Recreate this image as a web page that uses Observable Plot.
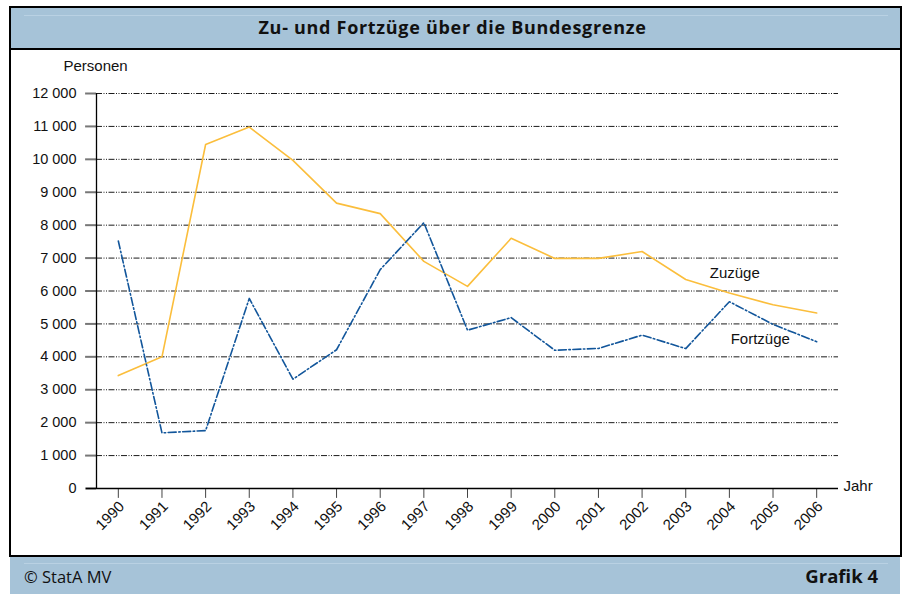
<!DOCTYPE html>
<html>
<head>
<meta charset="utf-8">
<script src="https://cdn.jsdelivr.net/npm/d3@7"></script>
<script src="https://cdn.jsdelivr.net/npm/@observablehq/plot@0.6"></script>
<style>
  html, body { margin: 0; padding: 0; background: #fff; }
  #wrap { position: relative; width: 905px; height: 594px; overflow: hidden; font-family: "Liberation Sans", Arial, sans-serif; }
  #chart { position: absolute; left: 0; top: 0; }
  .band { position: absolute; left: 10px; width: 890px; background: #a6c3d8; }
  .hl { position: absolute; height: 1px; background: #b9d1e3; }
  .bl { position: absolute; background: #000; }
  #title { position: absolute; left: 0; width: 905px; top: 15px; text-align: center; font-family: "Open Sans", sans-serif; font-weight: 700; font-size: 18px; letter-spacing: 0.7px; color: #111; }
  #src { position: absolute; left: 24px; top: 565px; font-family: "Open Sans", sans-serif; font-size: 16.5px; color: #111; }
  #grafik { position: absolute; right: 27px; top: 563px; font-family: "Open Sans", sans-serif; font-weight: 700; font-size: 18.5px; color: #111; }
</style>
</head>
<body>
<div id="wrap">
  <div id="chart"></div>
  <div class="band" style="top:7px;height:41px;"></div>
  <div class="hl" style="left:24px;width:864px;top:15px;"></div>
  <div class="band" style="top:556px;height:38px;"></div>
  <div class="hl" style="left:24px;width:864px;top:563px;"></div>
  <div class="bl" style="left:9px;width:893px;top:6px;height:1.5px;"></div>
  <div class="bl" style="left:9px;width:893px;top:48px;height:1.5px;"></div>
  <div class="bl" style="left:9px;width:893px;top:555px;height:1.5px;"></div>
  <div class="bl" style="left:9px;width:1.5px;top:6px;height:550px;"></div>
  <div class="bl" style="left:900px;width:1.5px;top:6px;height:550px;"></div>
  <div id="title">Zu- und Fortzüge über die Bundesgrenze</div>
  <div id="src">© StatA MV</div>
  <div id="grafik">Grafik 4</div>
</div>
<script>
const years = [1990,1991,1992,1993,1994,1995,1996,1997,1998,1999,2000,2001,2002,2003,2004,2005,2006];
const zuzuege = [3430,4000,10450,10980,9970,8670,8350,6900,6140,7600,6990,6990,7200,6350,5940,5580,5330];
const fortzuege = [7520,1690,1760,5775,3320,4215,6650,8075,4810,5190,4200,4255,4660,4250,5675,4985,4460];
const yTicks = [0,1000,2000,3000,4000,5000,6000,7000,8000,9000,10000,11000,12000];
const seriesNames = ["Zuzüge", "Fortzüge"];

const rows = [];
years.forEach((y, i) => {
  rows.push({year: y, value: zuzuege[i], series: seriesNames[0]});
  rows.push({year: y, value: fortzuege[i], series: seriesNames[1]});
});
const fmt = d => d3.format(",")(d).replace(/,/g, " ");

const chart = Plot.plot({
  width: 905,
  height: 594,
  marginLeft: 96,
  marginRight: 67,
  marginTop: 93,
  marginBottom: 106,
  style: {fontFamily: "Liberation Sans, Arial, sans-serif", fontSize: "15px", background: "transparent", color: "#111"},
  x: {type: "linear", domain: [1989.5, 2006.5], axis: null},
  y: {domain: [0, 12000], axis: null},
  marks: [
    Plot.ruleY(yTicks.filter(d => d > 0), {x1: 1989.5, x2: 2006.5, stroke: "#000", strokeWidth: 0.9, strokeDasharray: "6,1.5,1,1.5,1,1.5"}),
    // y ticks and labels
    Plot.ruleY(yTicks, {y: d => d, x1: 1989.25, x2: 1989.5, stroke: "#777", strokeWidth: 2}),
    Plot.text(yTicks, {x: 1989.5, y: d => d, text: fmt, dx: -20, textAnchor: "end", fontSize: 14.5, fill: "#111"}),
    // x ticks and labels
    Plot.ruleX(years, {x: d => d, y1: 0, y2: -300, stroke: "#444", strokeWidth: 1}),
    Plot.text(years, {x: d => d, y: 0, text: d => String(d), rotate: -45, textAnchor: "end", dx: 3.5, dy: 15.5, fontSize: 15, fill: "#111"}),
    // axis lines
    Plot.ruleX([1989.5], {y1: 0, y2: 12000, stroke: "#000", strokeWidth: 1.3}),
    Plot.ruleY([0], {x1: 1989.27, x2: 2006.5, stroke: "#000", strokeWidth: 1.3}),
    // series
    Plot.line(rows.filter(d => d.series === seriesNames[0]), {x: "year", y: "value", stroke: "#fbbe3c", strokeWidth: 1.6}),
    Plot.line(rows.filter(d => d.series === seriesNames[1]), {x: "year", y: "value", stroke: "#12569b", strokeWidth: 1.6, strokeDasharray: "8,2.5,1.5,2.5"}),
    Plot.text([seriesNames[0]], {x: 2003.55, y: 6540, text: d => d, textAnchor: "start", fontSize: 15, fill: "#111"}),
    Plot.text([seriesNames[1]], {x: 2004.03, y: 4540, text: d => d, textAnchor: "start", fontSize: 15, fill: "#111"}),
    Plot.text(["Personen"], {frameAnchor: "top-left", dx: -33, dy: -33, text: d => d, textAnchor: "start", fontSize: 15, fill: "#111"}),
    Plot.text(["Jahr"], {frameAnchor: "bottom-right", dx: 5, dy: 2, text: d => d, textAnchor: "start", fontSize: 15, fill: "#111"})
  ]
});
document.getElementById("chart").appendChild(chart);
</script>
</body>
</html>
